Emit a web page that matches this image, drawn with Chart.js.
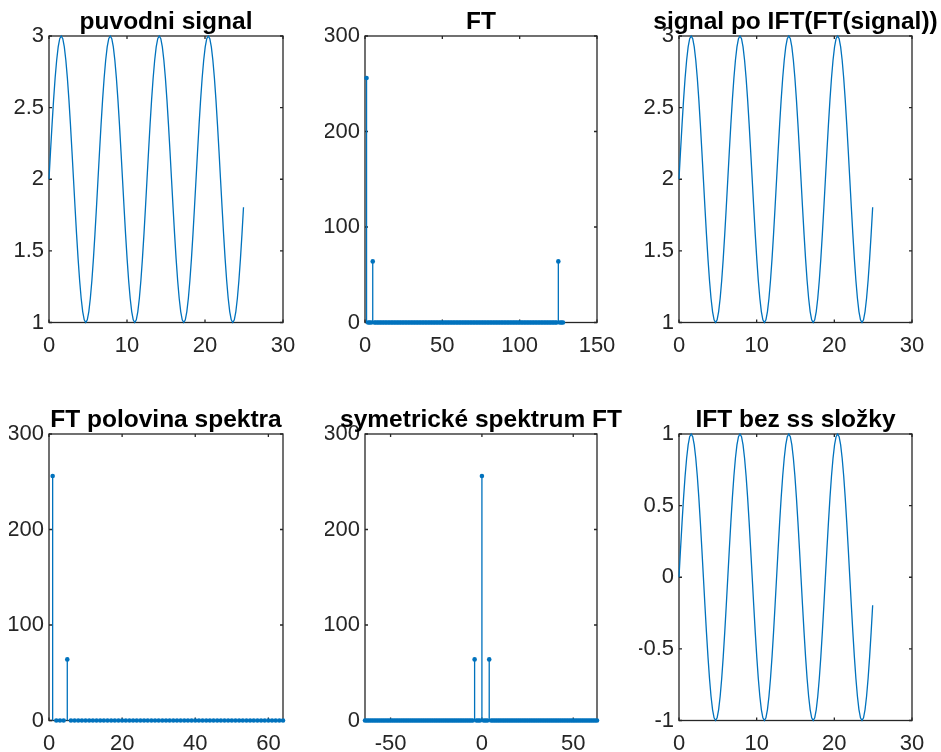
<!DOCTYPE html>
<html><head><meta charset="utf-8">
<script src="https://cdn.jsdelivr.net/npm/chart.js@4.4.1/dist/chart.umd.min.js"></script>
<style>
html,body{margin:0;padding:0;background:#fff;}
#wrap{position:relative;width:941px;height:752px;background:#fff;overflow:hidden;}
#wrap canvas{position:absolute;left:0;top:0;}
</style></head><body><div id="wrap">
<canvas id="c1" width="941" height="752"></canvas>
<canvas id="c2" width="941" height="752"></canvas>
<canvas id="c3" width="941" height="752"></canvas>
<canvas id="c4" width="941" height="752"></canvas>
<canvas id="c5" width="941" height="752"></canvas>
<canvas id="c6" width="941" height="752"></canvas>
</div>
<script>
// ---- data ----
const titles = ['puvodni signal', 'FT', 'signal po IFT(FT(signal))', 'FT polovina spektra', 'symetrické spektrum FT', 'IFT bez ss složky'];

const tValues = [
0,0.196,0.393,0.589,0.785,0.982,1.178,1.374,
1.571,1.767,1.963,2.160,2.356,2.553,2.749,2.945,
3.142,3.338,3.534,3.731,3.927,4.123,4.320,4.516,
4.712,4.909,5.105,5.301,5.498,5.694,5.890,6.087,
6.283,6.480,6.676,6.872,7.069,7.265,7.461,7.658,
7.854,8.050,8.247,8.443,8.639,8.836,9.032,9.228,
9.425,9.621,9.817,10.014,10.210,10.407,10.603,10.799,
10.996,11.192,11.388,11.585,11.781,11.977,12.174,12.370,
12.566,12.763,12.959,13.155,13.352,13.548,13.744,13.941,
14.137,14.334,14.530,14.726,14.923,15.119,15.315,15.512,
15.708,15.904,16.101,16.297,16.493,16.690,16.886,17.082,
17.279,17.475,17.671,17.868,18.064,18.261,18.457,18.653,
18.850,19.046,19.242,19.439,19.635,19.831,20.028,20.224,
20.420,20.617,20.813,21.009,21.206,21.402,21.598,21.795,
21.991,22.188,22.384,22.580,22.777,22.973,23.169,23.366,
23.562,23.758,23.955,24.151,24.347,24.544,24.740,24.936
];

const signalValues = [
2,2.195,2.383,2.556,2.707,2.831,2.924,2.981,3,2.981,2.924,2.831,2.707,2.556,2.383,2.195,
2,1.805,1.617,1.444,1.293,1.169,1.076,1.019,1,1.019,1.076,1.169,1.293,1.444,1.617,1.805,
2,2.195,2.383,2.556,2.707,2.831,2.924,2.981,3,2.981,2.924,2.831,2.707,2.556,2.383,2.195,
2,1.805,1.617,1.444,1.293,1.169,1.076,1.019,1,1.019,1.076,1.169,1.293,1.444,1.617,1.805,
2,2.195,2.383,2.556,2.707,2.831,2.924,2.981,3,2.981,2.924,2.831,2.707,2.556,2.383,2.195,
2,1.805,1.617,1.444,1.293,1.169,1.076,1.019,1,1.019,1.076,1.169,1.293,1.444,1.617,1.805,
2,2.195,2.383,2.556,2.707,2.831,2.924,2.981,3,2.981,2.924,2.831,2.707,2.556,2.383,2.195,
2,1.805,1.617,1.444,1.293,1.169,1.076,1.019,1,1.019,1.076,1.169,1.293,1.444,1.617,1.805
];

const reconstructedValues = [
2,2.195,2.383,2.556,2.707,2.831,2.924,2.981,3,2.981,2.924,2.831,2.707,2.556,2.383,2.195,
2,1.805,1.617,1.444,1.293,1.169,1.076,1.019,1,1.019,1.076,1.169,1.293,1.444,1.617,1.805,
2,2.195,2.383,2.556,2.707,2.831,2.924,2.981,3,2.981,2.924,2.831,2.707,2.556,2.383,2.195,
2,1.805,1.617,1.444,1.293,1.169,1.076,1.019,1,1.019,1.076,1.169,1.293,1.444,1.617,1.805,
2,2.195,2.383,2.556,2.707,2.831,2.924,2.981,3,2.981,2.924,2.831,2.707,2.556,2.383,2.195,
2,1.805,1.617,1.444,1.293,1.169,1.076,1.019,1,1.019,1.076,1.169,1.293,1.444,1.617,1.805,
2,2.195,2.383,2.556,2.707,2.831,2.924,2.981,3,2.981,2.924,2.831,2.707,2.556,2.383,2.195,
2,1.805,1.617,1.444,1.293,1.169,1.076,1.019,1,1.019,1.076,1.169,1.293,1.444,1.617,1.805
];

const acValues = [
0,0.195,0.383,0.556,0.707,0.831,0.924,0.981,1,0.981,0.924,0.831,0.707,0.556,0.383,0.195,
0,-0.195,-0.383,-0.556,-0.707,-0.831,-0.924,-0.981,-1,-0.981,-0.924,-0.831,-0.707,-0.556,-0.383,-0.195,
0,0.195,0.383,0.556,0.707,0.831,0.924,0.981,1,0.981,0.924,0.831,0.707,0.556,0.383,0.195,
0,-0.195,-0.383,-0.556,-0.707,-0.831,-0.924,-0.981,-1,-0.981,-0.924,-0.831,-0.707,-0.556,-0.383,-0.195,
0,0.195,0.383,0.556,0.707,0.831,0.924,0.981,1,0.981,0.924,0.831,0.707,0.556,0.383,0.195,
0,-0.195,-0.383,-0.556,-0.707,-0.831,-0.924,-0.981,-1,-0.981,-0.924,-0.831,-0.707,-0.556,-0.383,-0.195,
0,0.195,0.383,0.556,0.707,0.831,0.924,0.981,1,0.981,0.924,0.831,0.707,0.556,0.383,0.195,
0,-0.195,-0.383,-0.556,-0.707,-0.831,-0.924,-0.981,-1,-0.981,-0.924,-0.831,-0.707,-0.556,-0.383,-0.195
];

const ftIndex = [
1,2,3,4,5,6,7,8,9,10,11,12,13,14,15,16,
17,18,19,20,21,22,23,24,25,26,27,28,29,30,31,32,
33,34,35,36,37,38,39,40,41,42,43,44,45,46,47,48,
49,50,51,52,53,54,55,56,57,58,59,60,61,62,63,64,
65,66,67,68,69,70,71,72,73,74,75,76,77,78,79,80,
81,82,83,84,85,86,87,88,89,90,91,92,93,94,95,96,
97,98,99,100,101,102,103,104,105,106,107,108,109,110,111,112,
113,114,115,116,117,118,119,120,121,122,123,124,125,126,127,128
];
const ftValues = [
256,0,0,0,64,0,0,0,0,0,0,0,0,0,0,0,
0,0,0,0,0,0,0,0,0,0,0,0,0,0,0,0,
0,0,0,0,0,0,0,0,0,0,0,0,0,0,0,0,
0,0,0,0,0,0,0,0,0,0,0,0,0,0,0,0,
0,0,0,0,0,0,0,0,0,0,0,0,0,0,0,0,
0,0,0,0,0,0,0,0,0,0,0,0,0,0,0,0,
0,0,0,0,0,0,0,0,0,0,0,0,0,0,0,0,
0,0,0,0,0,0,0,0,0,0,0,0,64,0,0,0
];

const halfIndex = [
1,2,3,4,5,6,7,8,9,10,11,12,13,14,15,16,
17,18,19,20,21,22,23,24,25,26,27,28,29,30,31,32,
33,34,35,36,37,38,39,40,41,42,43,44,45,46,47,48,
49,50,51,52,53,54,55,56,57,58,59,60,61,62,63,64
];
const halfValues = [
256,0,0,0,64,0,0,0,0,0,0,0,0,0,0,0,
0,0,0,0,0,0,0,0,0,0,0,0,0,0,0,0,
0,0,0,0,0,0,0,0,0,0,0,0,0,0,0,0,
0,0,0,0,0,0,0,0,0,0,0,0,0,0,0,0
];

const shiftIndex = [
-64,-63,-62,-61,-60,-59,-58,-57,-56,-55,-54,-53,-52,-51,-50,-49,
-48,-47,-46,-45,-44,-43,-42,-41,-40,-39,-38,-37,-36,-35,-34,-33,
-32,-31,-30,-29,-28,-27,-26,-25,-24,-23,-22,-21,-20,-19,-18,-17,
-16,-15,-14,-13,-12,-11,-10,-9,-8,-7,-6,-5,-4,-3,-2,-1,
0,1,2,3,4,5,6,7,8,9,10,11,12,13,14,15,
16,17,18,19,20,21,22,23,24,25,26,27,28,29,30,31,
32,33,34,35,36,37,38,39,40,41,42,43,44,45,46,47,
48,49,50,51,52,53,54,55,56,57,58,59,60,61,62,63
];
const shiftValues = [
0,0,0,0,0,0,0,0,0,0,0,0,0,0,0,0,
0,0,0,0,0,0,0,0,0,0,0,0,0,0,0,0,
0,0,0,0,0,0,0,0,0,0,0,0,0,0,0,0,
0,0,0,0,0,0,0,0,0,0,0,0,64,0,0,0,
256,0,0,0,64,0,0,0,0,0,0,0,0,0,0,0,
0,0,0,0,0,0,0,0,0,0,0,0,0,0,0,0,
0,0,0,0,0,0,0,0,0,0,0,0,0,0,0,0,
0,0,0,0,0,0,0,0,0,0,0,0,0,0,0,0
];

const xTicksSignal = [0, 10, 20, 30];
const yTicksSignal = [1, 1.5, 2, 2.5, 3];
const xTicksFT = [0, 50, 100, 150];
const yTicksFT = [0, 100, 200, 300];
const xTicksHalf = [0, 20, 40, 60];
const xTicksShift = [-50, 0, 50];
const yTicksAC = [-1, -0.5, 0, 0.5, 1];

// ---- drawing ----
const W = 941, H = 752;
const BLUE = '#0072BD', AXIS = '#262626';
const FAMILY = '"Liberation Sans", Arial, Helvetica, sans-serif';
const TICK_FONT = {family: FAMILY, size: 22};

const boxPlugin = {
  id: 'matlabBox',
  beforeDatasetsDraw(chart) {
    const {ctx, chartArea: a, scales} = chart;
    const x = scales.x, y = scales.y;
    const tl = 3;
    ctx.save();
    ctx.strokeStyle = AXIS;
    ctx.lineWidth = 1.3;
    ctx.strokeRect(a.left, a.top, a.right - a.left, a.bottom - a.top);
    ctx.beginPath();
    x.ticks.forEach(t => {
      const p = x.getPixelForValue(t.value);
      ctx.moveTo(p, a.bottom); ctx.lineTo(p, a.bottom - tl);
      ctx.moveTo(p, a.top); ctx.lineTo(p, a.top + tl);
    });
    y.ticks.forEach(t => {
      const p = y.getPixelForValue(t.value);
      ctx.moveTo(a.left, p); ctx.lineTo(a.left + tl, p);
      ctx.moveTo(a.right, p); ctx.lineTo(a.right - tl, p);
    });
    ctx.stroke();
    ctx.restore();
  },
  afterDraw(chart, args, opts) {
    const {ctx, chartArea: a} = chart;
    ctx.save();
    ctx.font = 'bold 24.5px ' + FAMILY;
    ctx.fillStyle = '#000';
    ctx.textAlign = 'center';
    ctx.textBaseline = 'alphabetic';
    ctx.fillText(opts.title, (a.left + a.right) / 2, a.top - 6.7);
    ctx.restore();
  }
};

function lineSet(xs, ys) {
  return [{
    data: xs.map((v, i) => ({x: v, y: ys[i]})),
    borderColor: BLUE, borderWidth: 1.3, pointRadius: 0, tension: 0, clip: false, fill: false
  }];
}
function stemSets(xs, ys) {
  const stems = [];
  xs.forEach((v, i) => { stems.push({x: v, y: 0}, {x: v, y: ys[i]}, {x: v, y: null}); });
  return [
    {data: stems, borderColor: BLUE, borderWidth: 1.3, pointRadius: 0, spanGaps: false, clip: false, fill: false},
    {data: xs.map((v, i) => ({x: v, y: ys[i]})), showLine: false, pointRadius: 2.3, pointBorderWidth: 0,
     pointBackgroundColor: BLUE, pointBorderColor: BLUE, clip: false}
  ];
}

function makeChart(id, area, datasets, xr, yr, xt, yt, title) {
  new Chart(document.getElementById(id), {
    type: 'line',
    data: {datasets},
    options: {
      responsive: false, animation: false, events: [],
      layout: {padding: {left: area.l - 40, right: W - area.r, top: area.t, bottom: H - area.b - 30}},
      plugins: {legend: {display: false}, tooltip: {enabled: false}, title: {display: false}, matlabBox: {title}},
      scales: {
        x: {
          type: 'linear', min: xr[0], max: xr[1],
          grid: {display: false, drawTicks: false}, border: {display: false},
          afterFit: s => { s.height = 30; },
          afterBuildTicks: s => { s.ticks = xt.map(v => ({value: v})); },
          ticks: {font: TICK_FONT, color: AXIS, padding: 10, maxRotation: 0, autoSkip: false, callback: v => String(v)}
        },
        y: {
          type: 'linear', min: yr[0], max: yr[1],
          grid: {display: false, drawTicks: false}, border: {display: false},
          afterFit: s => { s.width = 40; },
          afterBuildTicks: s => { s.ticks = yt.map(v => ({value: v})); },
          ticks: {font: TICK_FONT, color: AXIS, padding: 5, autoSkip: false, callback: v => String(v)}
        }
      }
    },
    plugins: [boxPlugin]
  });
}

const colL = [49, 365, 679], colR = [283, 597, 912];
const rowT = [36, 434], rowB = [322.5, 720.5];
const A = (c, r) => ({l: colL[c], r: colR[c], t: rowT[r], b: rowB[r]});

makeChart('c1', A(0, 0), lineSet(tValues, signalValues), [0, 30], [1, 3], xTicksSignal, yTicksSignal, titles[0]);
makeChart('c2', A(1, 0), stemSets(ftIndex, ftValues), [0, 150], [0, 300], xTicksFT, yTicksFT, titles[1]);
makeChart('c3', A(2, 0), lineSet(tValues, reconstructedValues), [0, 30], [1, 3], xTicksSignal, yTicksSignal, titles[2]);
makeChart('c4', A(0, 1), stemSets(halfIndex, halfValues), [0, 64], [0, 300], xTicksHalf, yTicksFT, titles[3]);
makeChart('c5', A(1, 1), stemSets(shiftIndex, shiftValues), [-64, 63], [0, 300], xTicksShift, yTicksFT, titles[4]);
makeChart('c6', A(2, 1), lineSet(tValues, acValues), [0, 30], [-1, 1], xTicksSignal, yTicksAC, titles[5]);
</script>
</body></html>
